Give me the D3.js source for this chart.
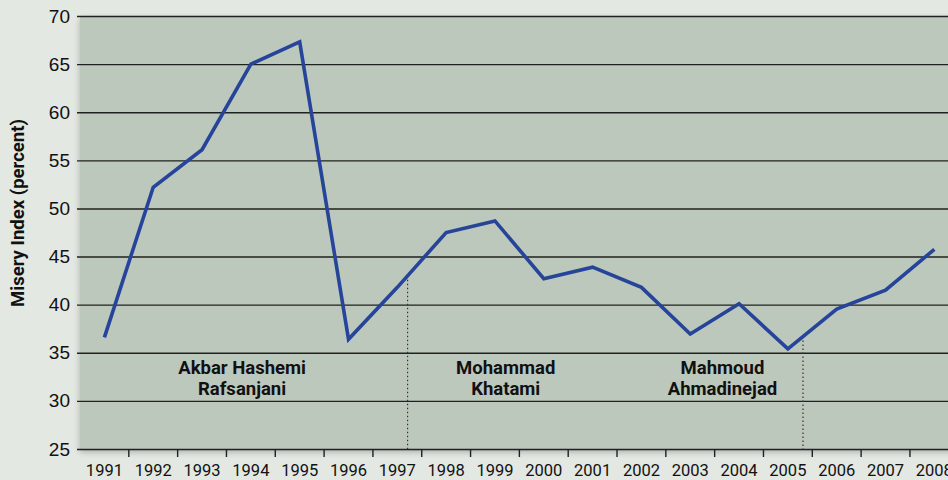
<!DOCTYPE html>
<html>
<head>
<meta charset="utf-8">
<script src="https://cdn.jsdelivr.net/npm/d3@7"></script>
<style>
  html, body { margin: 0; padding: 0; background: #e3e8e2; }
  svg { display: block; font-family: Roboto, "Noto Sans", sans-serif; }
</style>
</head>
<body>
<div id="chart"></div>
<script>
// data
const years = ['1991', '1992', '1993', '1994', '1995', '1996', '1997', '1998', '1999',
  '2000', '2001', '2002', '2003', '2004', '2005', '2006', '2007', '2008'];
const miseryIndex = [36.6, 52.2, 56.1, 65.0, 67.3, 36.4, 41.8, 47.5, 48.7,
  42.7, 43.9, 41.8, 36.95, 40.1, 35.4, 39.55, 41.5, 45.75];
const yTicks = [25, 30, 35, 40, 45, 50, 55, 60, 65, 70];
// presidents: label lines and where the label sits (fractional year from band start)
const presidentNames = [['Akbar Hashemi', 'Rafsanjani'], ['Mohammad', 'Khatami'], ['Mahmoud', 'Ahmadinejad']];
const presidentLabelAt = [1994.32, 1999.72, 2004.16];
// change of office (fractional year from band start)
const termChanges = [1997.71, 2005.81];

const width = 948;
const height = 480;
const bandW = 48.82;
const margin = {top: 16, left: 80, bottom: 31};
const plotH = height - margin.top - margin.bottom;

const svg = d3.select('#chart').append('svg')
  .attr('width', width)
  .attr('height', height);

const defs = svg.append('defs');
const shadow = defs.append('filter').attr('id', 'shadow')
  .attr('x', -0.05).attr('y', -0.05).attr('width', 1.1).attr('height', 1.1);
shadow.append('feDropShadow').attr('dx', 0).attr('dy', 3).attr('stdDeviation', 3)
  .attr('flood-color', '#000').attr('flood-opacity', 0.25);

const x = d3.scaleBand().domain(years)
  .range([margin.left, margin.left + bandW * years.length]).padding(0);
const y = d3.scaleLinear().domain([25, 70]).range([margin.top + plotH, margin.top]);

// position inside a year band, t = 1997.5 is the middle of 1997
const xTime = function(t) {
  const yr = Math.floor(t);
  return x(String(yr)) + (t - yr) * x.bandwidth();
};

// plot background
svg.append('rect')
  .attr('x', x.range()[0])
  .attr('y', y(70))
  .attr('width', x.range()[1] - x.range()[0])
  .attr('height', y(25) - y(70))
  .attr('fill', '#bdc8bc')
  .attr('filter', 'url(#shadow)');

// gridlines + left ticks
const yAxis = d3.axisLeft(y).tickValues(yTicks).tickSize(-(x.range()[1] - x.range()[0] + 3)).tickPadding(8);
const yG = svg.append('g')
  .attr('transform', 'translate(' + (margin.left - 3) + ',0)')
  .call(yAxis);
yG.select('.domain').remove();
yG.selectAll('.tick line').attr('stroke', '#1f221f').attr('stroke-width', 1.4);
yG.selectAll('.tick text')
  .attr('font-size', 19)
  .attr('fill', '#111')
  .attr('x', -7);

// bottom axis ticks at band boundaries
const xAxisG = svg.append('g');
xAxisG.selectAll('line.bt').data(years.slice(1)).enter().append('line')
  .attr('class', 'bt')
  .attr('x1', function(d) { return x(d); })
  .attr('x2', function(d) { return x(d); })
  .attr('y1', y(25))
  .attr('y2', y(25) + 8)
  .attr('stroke', '#1f221f')
  .attr('stroke-width', 1.4);
xAxisG.selectAll('text').data(years).enter().append('text')
  .attr('x', function(d) { return x(d) + x.bandwidth() / 2; })
  .attr('y', y(25) + 27)
  .attr('text-anchor', 'middle')
  .attr('font-size', 16.5)
  .attr('fill', '#111')
  .text(function(d) { return d; });

// dotted lines at change of office, from the line down to the axis
const lineY = function(t) {
  const c = t - 0.5;
  const i = Math.floor(c) - 1991;
  const f = c - Math.floor(c);
  return y(miseryIndex[i] + (miseryIndex[i + 1] - miseryIndex[i]) * f);
};
svg.selectAll('line.term').data(termChanges).enter().append('line')
  .attr('class', 'term')
  .attr('x1', function(d) { return xTime(d); })
  .attr('x2', function(d) { return xTime(d); })
  .attr('y1', function(d) { return lineY(d); })
  .attr('y2', y(25))
  .attr('stroke', '#333')
  .attr('stroke-width', 1.2)
  .attr('stroke-dasharray', '1.5,2.5');

// president labels
const labels = svg.append('g');
presidentNames.forEach(function(lines, i) {
  const t = labels.append('text')
    .attr('x', xTime(presidentLabelAt[i]))
    .attr('y', y(35) + 21)
    .attr('text-anchor', 'middle')
    .attr('font-size', 18.5)
    .attr('font-weight', 'bold')
    .attr('fill', '#111');
  lines.forEach(function(s, j) {
    t.append('tspan')
      .attr('x', xTime(presidentLabelAt[i]))
      .attr('dy', j === 0 ? 0 : 21)
      .text(s);
  });
});

// misery index line
const line = d3.line()
  .x(function(d, i) { return x(years[i]) + x.bandwidth() / 2; })
  .y(function(d) { return y(d); });
svg.append('path')
  .datum(miseryIndex)
  .attr('d', line)
  .attr('fill', 'none')
  .attr('stroke', '#27449b')
  .attr('stroke-width', 3.6)
  .attr('stroke-linejoin', 'miter');

// y axis title
svg.append('text')
  .attr('transform', 'translate(24,' + 213 + ') rotate(-90)')
  .attr('text-anchor', 'middle')
  .attr('font-size', 18.5)
  .attr('font-weight', 'bold')
  .attr('fill', '#111')
  .text('Misery Index (percent)');
</script>
</body>
</html>
